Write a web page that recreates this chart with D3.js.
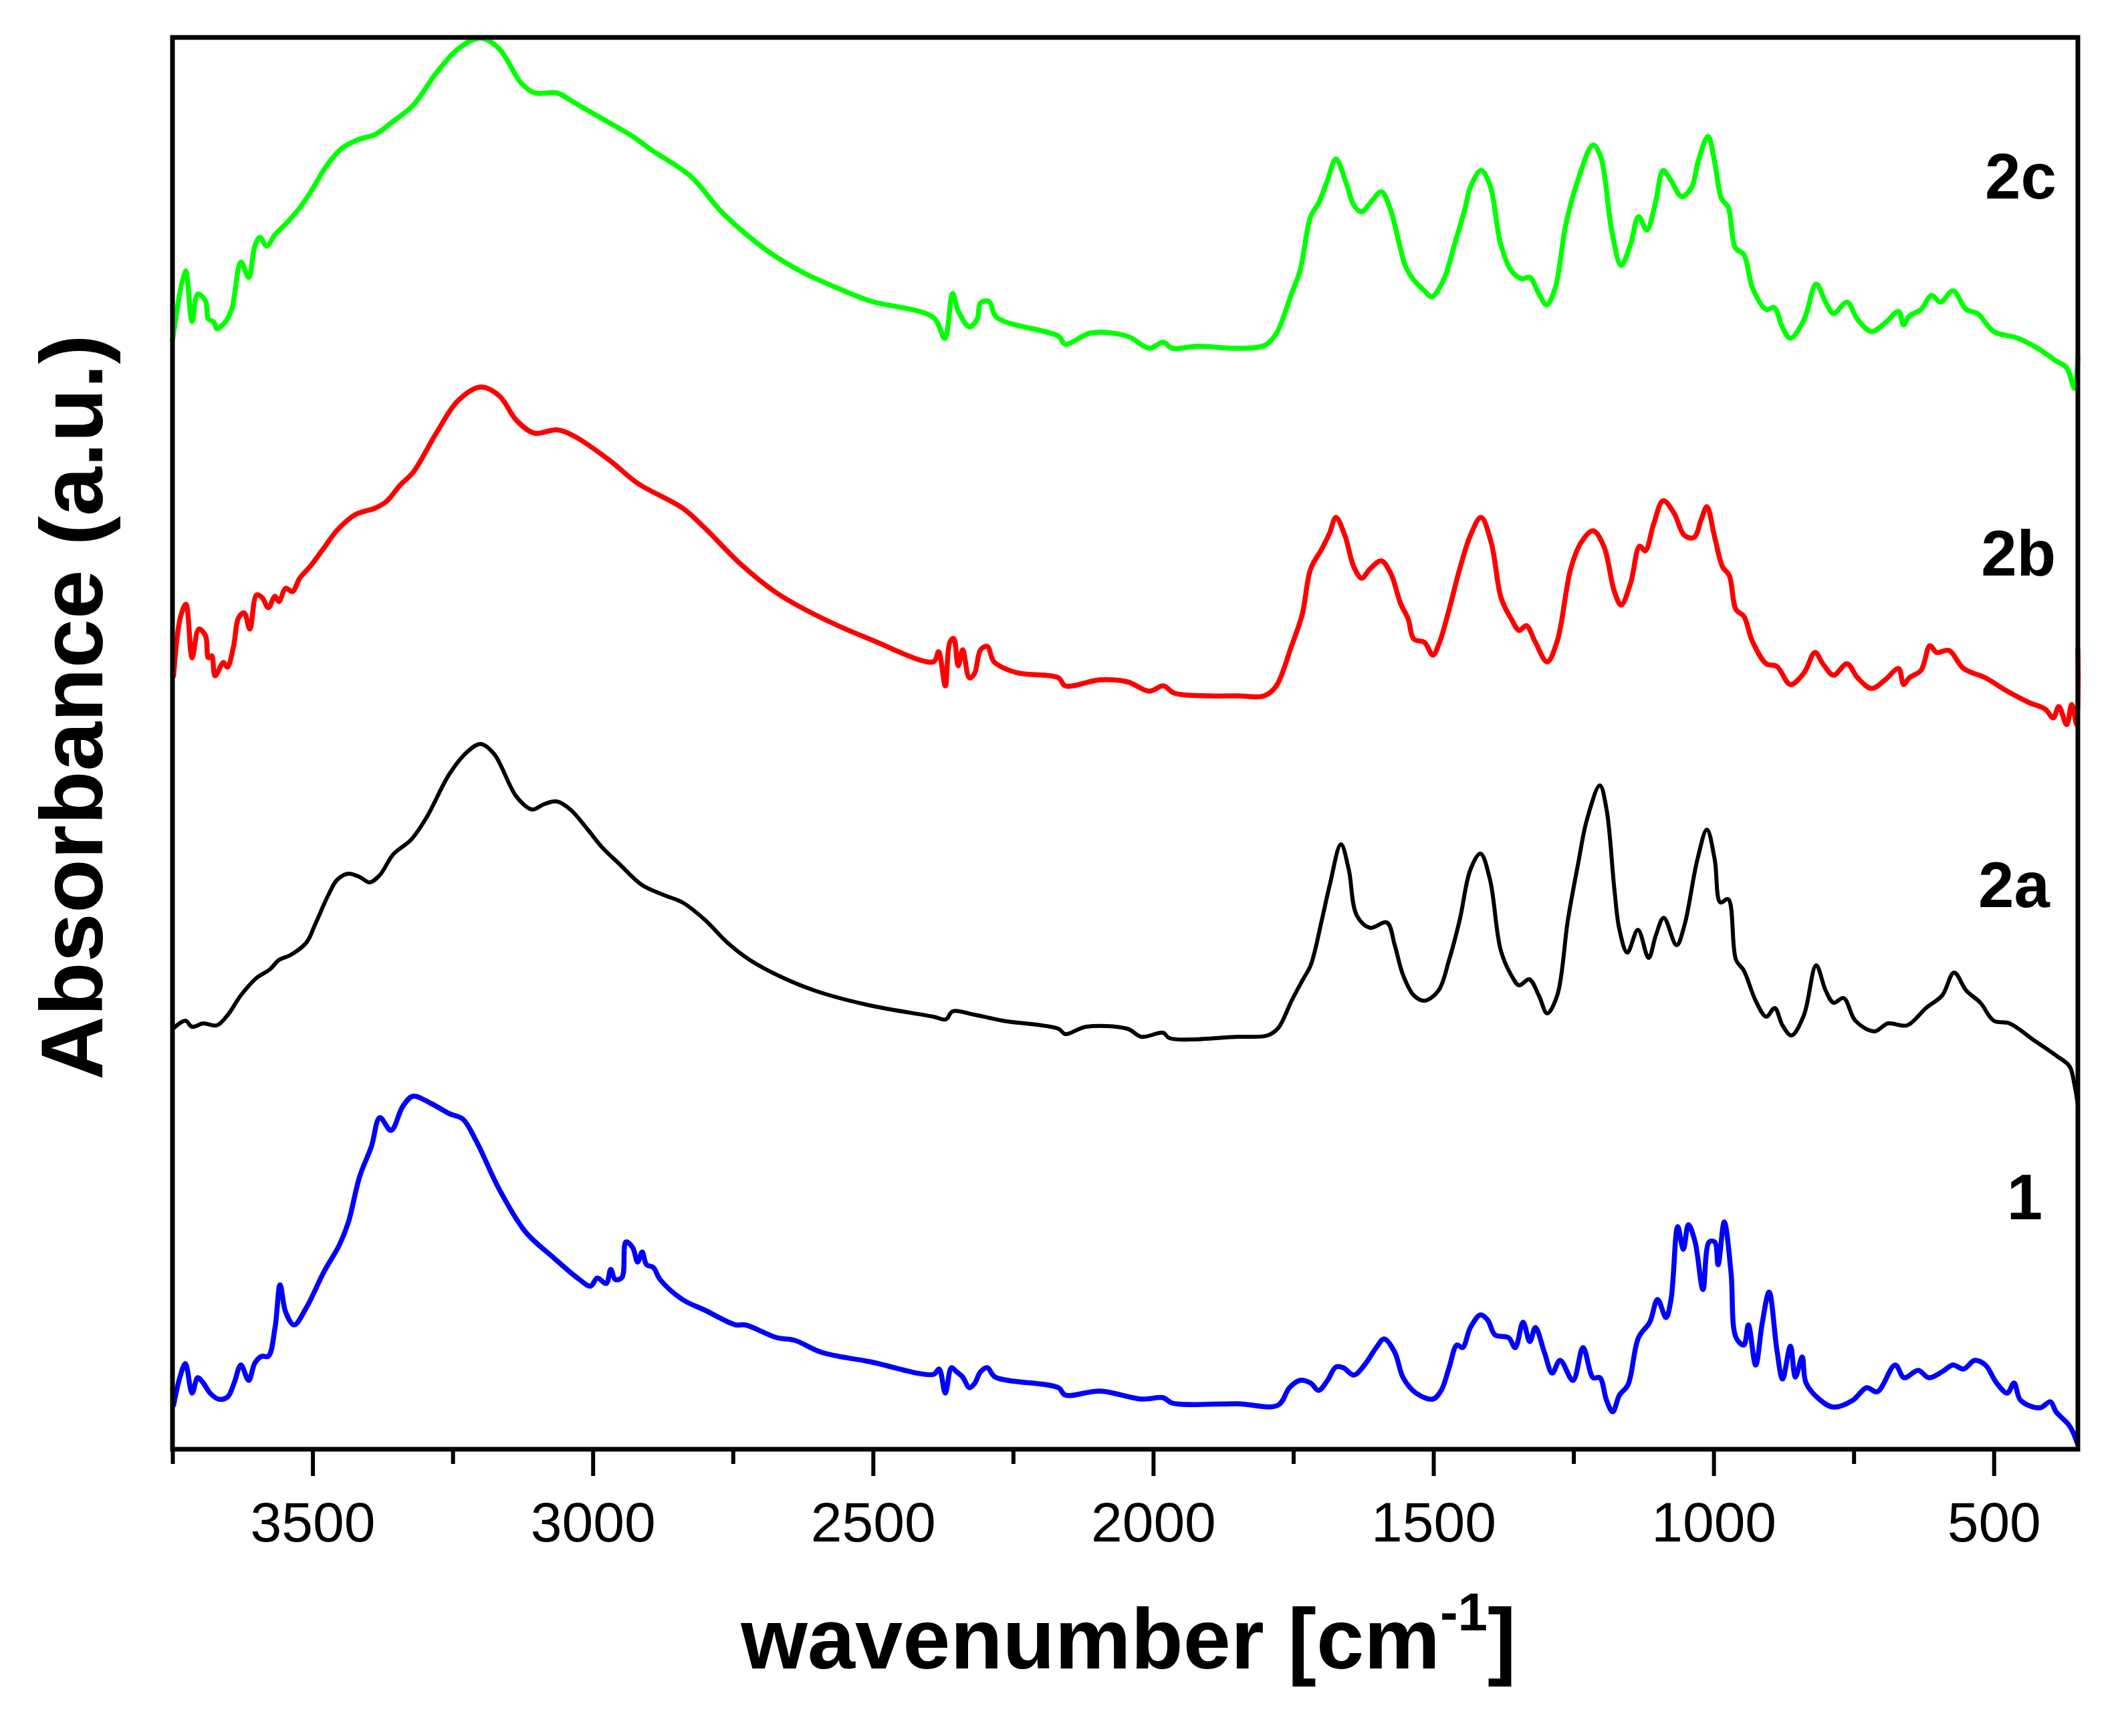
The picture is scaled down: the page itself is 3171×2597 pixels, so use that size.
<!DOCTYPE html>
<html>
<head>
<meta charset="utf-8">
<script src="https://cdnjs.cloudflare.com/ajax/libs/d3/7.8.5/d3.min.js"></script>
<style>
  body { margin: 0; background: #ffffff; }
  text { font-family: "Liberation Sans", Arial, sans-serif; }
</style>
</head>
<body>
<div id="chart"></div>
<script>
// spectra: [wavenumber cm-1, absorbance a.u. incl. stacking offset]
var sp2c = [[3750,16.59],[3727,17.63],[3715,16.87],[3705,17.28],[3691,17.18],[3686,16.91],[3676,16.86],[3671,16.76],[3656,16.86],[3644,17.06],[3628,17.76],[3614,17.53],[3603,18.00],[3594,18.13],[3582,18.00],[3567,18.17],[3548,18.33],[3523,18.57],[3504,18.80],[3475,19.20],[3448,19.46],[3419,19.59],[3388,19.67],[3360,19.84],[3320,20.11],[3280,20.58],[3240,20.95],[3200,21.11],[3167,20.95],[3128,20.44],[3104,20.29],[3064,20.29],[3032,20.14],[2976,19.87],[2929,19.64],[2896,19.44],[2825,19.04],[2769,18.50],[2689,17.93],[2624,17.60],[2566,17.38],[2506,17.18],[2392,16.93],[2372,16.62],[2358,17.29],[2348,17.03],[2328,16.79],[2314,16.91],[2308,17.15],[2293,17.17],[2279,16.93],[2169,16.65],[2157,16.53],[2111,16.70],[2046,16.65],[2007,16.47],[1982,16.56],[1966,16.47],[1922,16.50],[1849,16.47],[1802,16.51],[1781,16.68],[1753,17.29],[1738,17.63],[1719,18.44],[1705,18.64],[1689,18.98],[1674,19.30],[1656,18.95],[1642,18.61],[1628,18.51],[1613,18.64],[1593,18.81],[1578,18.58],[1559,17.97],[1550,17.70],[1535,17.49],[1516,17.33],[1503,17.24],[1482,17.49],[1462,18.03],[1443,18.58],[1434,18.88],[1415,19.13],[1399,18.91],[1380,18.03],[1361,17.63],[1342,17.51],[1328,17.53],[1312,17.29],[1298,17.12],[1283,17.36],[1264,18.31],[1245,18.91],[1215,19.51],[1201,19.32],[1182,18.24],[1165,17.71],[1148,18.03],[1134,18.44],[1119,18.24],[1104,18.64],[1090,19.13],[1076,18.98],[1057,18.74],[1039,18.88],[1028,19.25],[1010,19.64],[998,19.25],[986,18.71],[974,18.58],[961,17.97],[946,17.87],[930,17.36],[906,17.05],[892,17.08],[877,16.78],[863,16.62],[839,16.89],[817,17.43],[800,17.16],[786,16.99],[762,17.16],[743,16.90],[718,16.72],[694,16.85],[670,17.02],[661,16.82],[651,16.95],[630,17.05],[611,17.26],[595,17.16],[573,17.33],[549,17.05],[529,16.99],[500,16.72],[457,16.62],[418,16.45],[389,16.28],[370,16.18],[356,15.87],[350,16.35]];

var sp2b = [[3748,11.57],[3736,12.44],[3726,12.64],[3715,11.84],[3703,12.27],[3691,12.17],[3686,11.84],[3680,11.87],[3674,11.57],[3659,11.77],[3652,11.70],[3641,12.01],[3632,12.44],[3622,12.51],[3612,12.27],[3600,12.78],[3590,12.74],[3579,12.59],[3567,12.76],[3560,12.68],[3548,12.88],[3536,12.83],[3523,13.03],[3504,13.21],[3480,13.48],[3456,13.75],[3424,13.98],[3388,14.08],[3368,14.18],[3344,14.42],[3320,14.62],[3280,15.19],[3240,15.69],[3200,15.89],[3167,15.76],[3136,15.39],[3104,15.20],[3064,15.25],[3032,15.15],[2968,14.78],[2920,14.45],[2840,14.08],[2800,13.78],[2736,13.24],[2672,12.81],[2600,12.47],[2506,12.12],[2392,11.78],[2383,11.93],[2371,11.42],[2363,12.07],[2356,12.13],[2348,11.72],[2340,11.96],[2328,11.54],[2319,11.60],[2308,11.96],[2296,12.01],[2284,11.78],[2245,11.62],[2169,11.54],[2157,11.42],[2095,11.51],[2046,11.48],[2007,11.34],[1982,11.42],[1962,11.31],[1897,11.27],[1849,11.27],[1802,11.27],[1781,11.41],[1753,12.02],[1734,12.49],[1719,13.17],[1699,13.47],[1685,13.71],[1674,13.94],[1658,13.67],[1642,13.20],[1628,13.03],[1613,13.17],[1593,13.29],[1576,13.10],[1559,12.66],[1545,12.42],[1535,12.12],[1516,12.07],[1501,11.88],[1490,12.05],[1472,12.56],[1453,13.17],[1434,13.67],[1415,13.94],[1397,13.57],[1379,12.73],[1361,12.42],[1347,12.25],[1334,12.32],[1319,12.09],[1297,11.78],[1279,12.09],[1255,13.17],[1236,13.57],[1215,13.74],[1196,13.51],[1177,12.83],[1165,12.63],[1148,12.96],[1132,13.51],[1122,13.44],[1107,13.84],[1090,14.19],[1071,14.01],[1052,13.67],[1035,13.64],[1022,13.91],[1012,14.10],[998,13.64],[984,13.20],[972,13.07],[960,12.56],[946,12.46],[931,12.09],[906,11.75],[887,11.71],[863,11.44],[839,11.61],[819,11.92],[805,11.75],[786,11.58],[762,11.75],[743,11.54],[718,11.38],[694,11.51],[670,11.68],[661,11.44],[651,11.54],[630,11.65],[614,12.02],[602,11.92],[580,11.95],[554,11.68],[515,11.54],[476,11.34],[437,11.17],[408,11.07],[394,10.94],[384,11.11],[370,10.84],[361,11.14],[352,10.84],[350,11.96]];

var sp2a = [[3748,6.30],[3727,6.41],[3715,6.32],[3695,6.37],[3671,6.34],[3652,6.49],[3628,6.79],[3600,7.05],[3576,7.18],[3560,7.32],[3540,7.39],[3511,7.58],[3496,7.84],[3472,8.29],[3456,8.52],[3436,8.61],[3416,8.56],[3398,8.48],[3380,8.59],[3356,8.90],[3324,9.12],[3296,9.46],[3256,10.10],[3223,10.44],[3200,10.55],[3176,10.40],[3136,9.76],[3108,9.57],[3087,9.65],[3064,9.69],[3040,9.57],[3009,9.27],[2984,9.01],[2952,8.75],[2912,8.44],[2873,8.29],[2840,8.18],[2800,7.92],[2760,7.58],[2720,7.32],[2665,7.07],[2600,6.85],[2506,6.64],[2392,6.47],[2370,6.43],[2358,6.55],[2319,6.50],[2268,6.41],[2169,6.29],[2157,6.21],[2120,6.32],[2046,6.29],[2021,6.17],[1982,6.23],[1971,6.15],[1849,6.17],[1796,6.19],[1777,6.30],[1753,6.71],[1734,7.01],[1719,7.24],[1699,7.92],[1685,8.44],[1665,9.05],[1651,8.67],[1637,7.99],[1613,7.80],[1583,7.88],[1569,7.54],[1554,7.09],[1535,6.79],[1516,6.71],[1491,6.86],[1472,7.32],[1453,7.92],[1434,8.67],[1416,8.91],[1399,8.52],[1380,7.47],[1361,7.09],[1347,6.94],[1329,7.03],[1312,6.79],[1297,6.52],[1279,6.79],[1260,7.92],[1242,8.75],[1226,9.42],[1203,9.93],[1191,9.57],[1177,8.37],[1168,7.77],[1154,7.43],[1135,7.77],[1116,7.35],[1103,7.69],[1089,7.95],[1066,7.54],[1052,7.84],[1029,8.82],[1012,9.27],[998,8.82],[988,8.18],[974,8.23],[960,7.32],[946,7.16],[925,6.71],[906,6.47],[891,6.60],[877,6.34],[861,6.19],[839,6.49],[817,7.24],[800,6.86],[786,6.68],[768,6.75],[747,6.41],[713,6.25],[689,6.37],[655,6.34],[621,6.60],[592,6.79],[571,7.13],[549,6.86],[524,6.68],[500,6.41],[472,6.37],[427,6.11],[389,5.89],[365,5.73],[356,5.45],[350,5.15]];

var sp1 = [[3748,0.66],[3737,1.07],[3727,1.28],[3715,0.84],[3705,1.07],[3695,0.99],[3683,0.84],[3668,0.75],[3652,0.78],[3640,0.99],[3628,1.26],[3614,1.03],[3603,1.29],[3591,1.39],[3579,1.39],[3567,1.82],[3558,2.46],[3548,2.05],[3533,1.86],[3511,2.12],[3480,2.65],[3452,3.06],[3436,3.40],[3416,4.08],[3395,4.53],[3380,4.96],[3360,4.77],[3339,5.13],[3321,5.28],[3288,5.17],[3256,5.02],[3232,4.94],[3208,4.61],[3167,3.89],[3120,3.25],[3072,2.88],[3024,2.54],[3004,2.44],[2992,2.56],[2976,2.48],[2968,2.69],[2960,2.54],[2948,2.57],[2941,3.10],[2929,3.02],[2920,2.80],[2912,2.95],[2904,2.76],[2892,2.72],[2880,2.54],[2840,2.24],[2800,2.08],[2745,1.86],[2728,1.86],[2672,1.67],[2640,1.63],[2592,1.45],[2506,1.31],[2392,1.12],[2382,1.20],[2371,0.84],[2360,1.22],[2351,1.16],[2340,1.08],[2328,0.92],[2319,0.98],[2308,1.16],[2296,1.22],[2282,1.08],[2169,0.92],[2157,0.81],[2095,0.87],[2021,0.75],[1982,0.77],[1966,0.69],[1849,0.68],[1777,0.66],[1757,0.92],[1738,1.03],[1719,0.99],[1705,0.88],[1689,1.03],[1674,1.23],[1661,1.22],[1642,1.11],[1623,1.26],[1602,1.52],[1588,1.65],[1569,1.45],[1554,1.07],[1531,0.84],[1501,0.75],[1486,0.88],[1472,1.22],[1458,1.56],[1448,1.52],[1434,1.82],[1416,2.01],[1403,1.93],[1390,1.71],[1366,1.67],[1354,1.52],[1340,1.90],[1328,1.61],[1318,1.82],[1302,1.45],[1288,1.14],[1274,1.33],[1251,1.03],[1233,1.52],[1215,1.07],[1203,1.07],[1191,0.73],[1180,0.56],[1168,0.81],[1153,0.96],[1134,1.67],[1114,1.90],[1100,2.24],[1085,1.97],[1076,2.24],[1064,3.33],[1054,2.99],[1045,3.36],[1033,3.10],[1019,2.39],[1008,3.10],[998,3.10],[992,2.76],[981,3.40],[969,2.65],[960,1.67],[946,1.56],[938,1.86],[925,1.26],[913,1.90],[901,2.35],[887,1.48],[877,1.05],[863,1.54],[854,1.08],[842,1.38],[835,0.99],[809,0.73],[786,0.63],[752,0.73],[727,0.92],[708,0.86],[676,1.26],[660,1.07],[635,1.18],[616,1.07],[592,1.16],[573,1.26],[554,1.20],[534,1.33],[515,1.26],[495,0.99],[476,0.84],[464,0.99],[452,0.73],[418,0.62],[399,0.71],[389,0.56],[365,0.35],[351,0.09]];

var seriesNames = ["2c", "2b", "2a", "1"];
var seriesColors = ["#00ff00", "#ff0000", "#000000", "#0000ff"];
var seriesData = [sp2c, sp2b, sp2a, sp1];
// label anchor points [wavenumber, absorbance]
var labelPos = [[452, 18.71], [456, 13.07], [464, 8.11], [445, 3.44]];

var majorTicks = [3500, 3000, 2500, 2000, 1500, 1000, 500];
var minorTicks = [3750, 3250, 2750, 2250, 1750, 1250, 750];

var W = 3171, H = 2597;
var pLeft = 258, pRight = 3108, pTop = 56, pBottom = 2168;

var svg = d3.select("#chart")
    .append("svg")
    .attr("width", W)
    .attr("height", H);

svg.append("rect")
    .attr("width", W)
    .attr("height", H)
    .attr("fill", "#ffffff");

var x = d3.scaleLinear().domain([3750, 350]).range([pLeft, pRight]);
var y = d3.scaleLinear().domain([0, 21.12]).range([pBottom, pTop]);

var line = d3.line()
    .x(function (d) { return x(d[0]); })
    .y(function (d) { return y(d[1]); })
    .curve(d3.curveCatmullRom.alpha(0.5));

// spectra
seriesData.forEach(function (s, i) {
  svg.append("path")
      .datum(s)
      .attr("d", line)
      .attr("fill", "none")
      .attr("stroke", seriesColors[i])
      .attr("stroke-width", i == 2 ? 6 : 7.5)
      .attr("stroke-linejoin", "round")
      .attr("stroke-linecap", "round");
});

// sample labels
seriesNames.forEach(function (n, i) {
  svg.append("text")
      .attr("x", x(labelPos[i][0]))
      .attr("y", y(labelPos[i][1]))
      .attr("text-anchor", "middle")
      .style("font-size", "96px")
      .style("font-weight", "bold")
      .text(n);
});

// x axis, major + minor ticks
var gMajor = svg.append("g")
    .attr("transform", "translate(0," + pBottom + ")")
    .call(d3.axisBottom(x).tickValues(majorTicks).tickSize(40).tickPadding(38).tickFormat(d3.format("d")));
gMajor.select(".domain").remove();
gMajor.selectAll("line").attr("stroke", "#000").attr("stroke-width", 6);
gMajor.selectAll("text")
    .attr("fill", "#000")
    .style("font-size", "84px")
    .style("font-family", "'Liberation Sans', Arial, sans-serif");

var gMinor = svg.append("g")
    .attr("transform", "translate(0," + pBottom + ")")
    .call(d3.axisBottom(x).tickValues(minorTicks).tickSize(22).tickFormat(""));
gMinor.select(".domain").remove();
gMinor.selectAll("line").attr("stroke", "#000").attr("stroke-width", 6);

// frame
svg.append("rect")
    .attr("x", pLeft)
    .attr("y", pTop)
    .attr("width", pRight - pLeft)
    .attr("height", pBottom - pTop)
    .attr("fill", "none")
    .attr("stroke", "#000")
    .attr("stroke-width", 7);

// axis titles
var xt = svg.append("text")
    .attr("x", (pLeft + pRight) / 2 + 5)
    .attr("y", 2496)
    .attr("text-anchor", "middle")
    .style("font-size", "128px")
    .style("font-weight", "bold");
xt.append("tspan").text("wavenumber [cm");
xt.append("tspan").attr("dy", -57).style("font-size", "80px").text("-1");
xt.append("tspan").attr("dy", 57).text("]");

svg.append("text")
    .attr("transform", "translate(153," + 1058 + ") rotate(-90)")
    .attr("text-anchor", "middle")
    .style("font-size", "132px")
    .style("font-weight", "bold")
    .text("Absorbance (a.u.)");
</script>
</body>
</html>
